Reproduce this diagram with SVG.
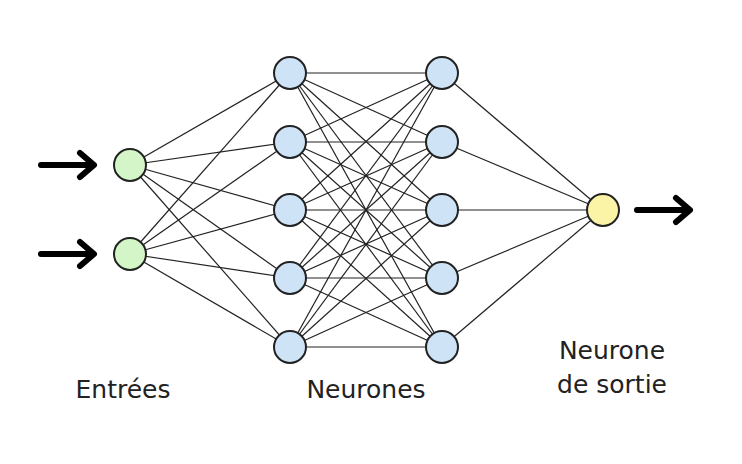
<svg xmlns="http://www.w3.org/2000/svg" width="742" height="464" viewBox="0 0 742 464">
<style>
.n{stroke:#222;stroke-width:2}
.in{fill:#d4f5c8}.h{fill:#cfe3f7}.o{fill:#fbf3a6}
.c line{stroke:#222;stroke-width:1.2}
.ar{stroke:#000;stroke-width:6;fill:none;stroke-linecap:round;stroke-linejoin:round}
text{font-family:"DejaVu Sans",sans-serif;font-size:25px;fill:#222}
</style>
<rect width="742" height="464" fill="#fff"/>
<g id="connectors" class="c">
<line x1="130" y1="165" x2="290" y2="73"/><line x1="130" y1="165" x2="290" y2="142"/><line x1="130" y1="165" x2="290" y2="210"/><line x1="130" y1="165" x2="290" y2="278"/><line x1="130" y1="165" x2="290" y2="347"/>
<line x1="130" y1="254" x2="290" y2="73"/><line x1="130" y1="254" x2="290" y2="142"/><line x1="130" y1="254" x2="290" y2="210"/><line x1="130" y1="254" x2="290" y2="278"/><line x1="130" y1="254" x2="290" y2="347"/>
<line x1="290" y1="73" x2="442" y2="73"/><line x1="290" y1="73" x2="442" y2="142"/><line x1="290" y1="73" x2="442" y2="210"/><line x1="290" y1="73" x2="442" y2="278"/><line x1="290" y1="73" x2="442" y2="347"/>
<line x1="290" y1="142" x2="442" y2="73"/><line x1="290" y1="142" x2="442" y2="142"/><line x1="290" y1="142" x2="442" y2="210"/><line x1="290" y1="142" x2="442" y2="278"/><line x1="290" y1="142" x2="442" y2="347"/>
<line x1="290" y1="210" x2="442" y2="73"/><line x1="290" y1="210" x2="442" y2="142"/><line x1="290" y1="210" x2="442" y2="210"/><line x1="290" y1="210" x2="442" y2="278"/><line x1="290" y1="210" x2="442" y2="347"/>
<line x1="290" y1="278" x2="442" y2="73"/><line x1="290" y1="278" x2="442" y2="142"/><line x1="290" y1="278" x2="442" y2="210"/><line x1="290" y1="278" x2="442" y2="278"/><line x1="290" y1="278" x2="442" y2="347"/>
<line x1="290" y1="347" x2="442" y2="73"/><line x1="290" y1="347" x2="442" y2="142"/><line x1="290" y1="347" x2="442" y2="210"/><line x1="290" y1="347" x2="442" y2="278"/><line x1="290" y1="347" x2="442" y2="347"/>
<line x1="442" y1="73" x2="603" y2="210"/><line x1="442" y1="142" x2="603" y2="210"/><line x1="442" y1="210" x2="603" y2="210"/><line x1="442" y1="278" x2="603" y2="210"/><line x1="442" y1="347" x2="603" y2="210"/>
</g>
<g id="arrows">
<path class="ar" d="M41 165H93M80 153L94 165L80 177"/>
<path class="ar" d="M41 254H93M80 242L94 254L80 266"/>
<path class="ar" d="M637 210H689M676 198L690 210L676 222"/>
</g>
<g id="in1"><circle class="n in" cx="130" cy="165" r="16"/></g>
<g id="in2"><circle class="n in" cx="130" cy="254" r="16"/></g>
<g id="h1a"><circle class="n h" cx="290" cy="73" r="16"/></g>
<g id="h1b"><circle class="n h" cx="290" cy="142" r="16"/></g>
<g id="h1c"><circle class="n h" cx="290" cy="210" r="16"/></g>
<g id="h1d"><circle class="n h" cx="290" cy="278" r="16"/></g>
<g id="h1e"><circle class="n h" cx="290" cy="347" r="16"/></g>
<g id="h2a"><circle class="n h" cx="442" cy="73" r="16"/></g>
<g id="h2b"><circle class="n h" cx="442" cy="142" r="16"/></g>
<g id="h2c"><circle class="n h" cx="442" cy="210" r="16"/></g>
<g id="h2d"><circle class="n h" cx="442" cy="278" r="16"/></g>
<g id="h2e"><circle class="n h" cx="442" cy="347" r="16"/></g>
<g id="out"><circle class="n o" cx="603" cy="210" r="16"/></g>
<g id="labels">
<text x="123" y="398" text-anchor="middle">Entrées</text>
<text x="366" y="398" text-anchor="middle">Neurones</text>
<text x="612" y="359" text-anchor="middle">Neurone</text>
<text x="612" y="393" text-anchor="middle">de sortie</text>
</g>
</svg>
